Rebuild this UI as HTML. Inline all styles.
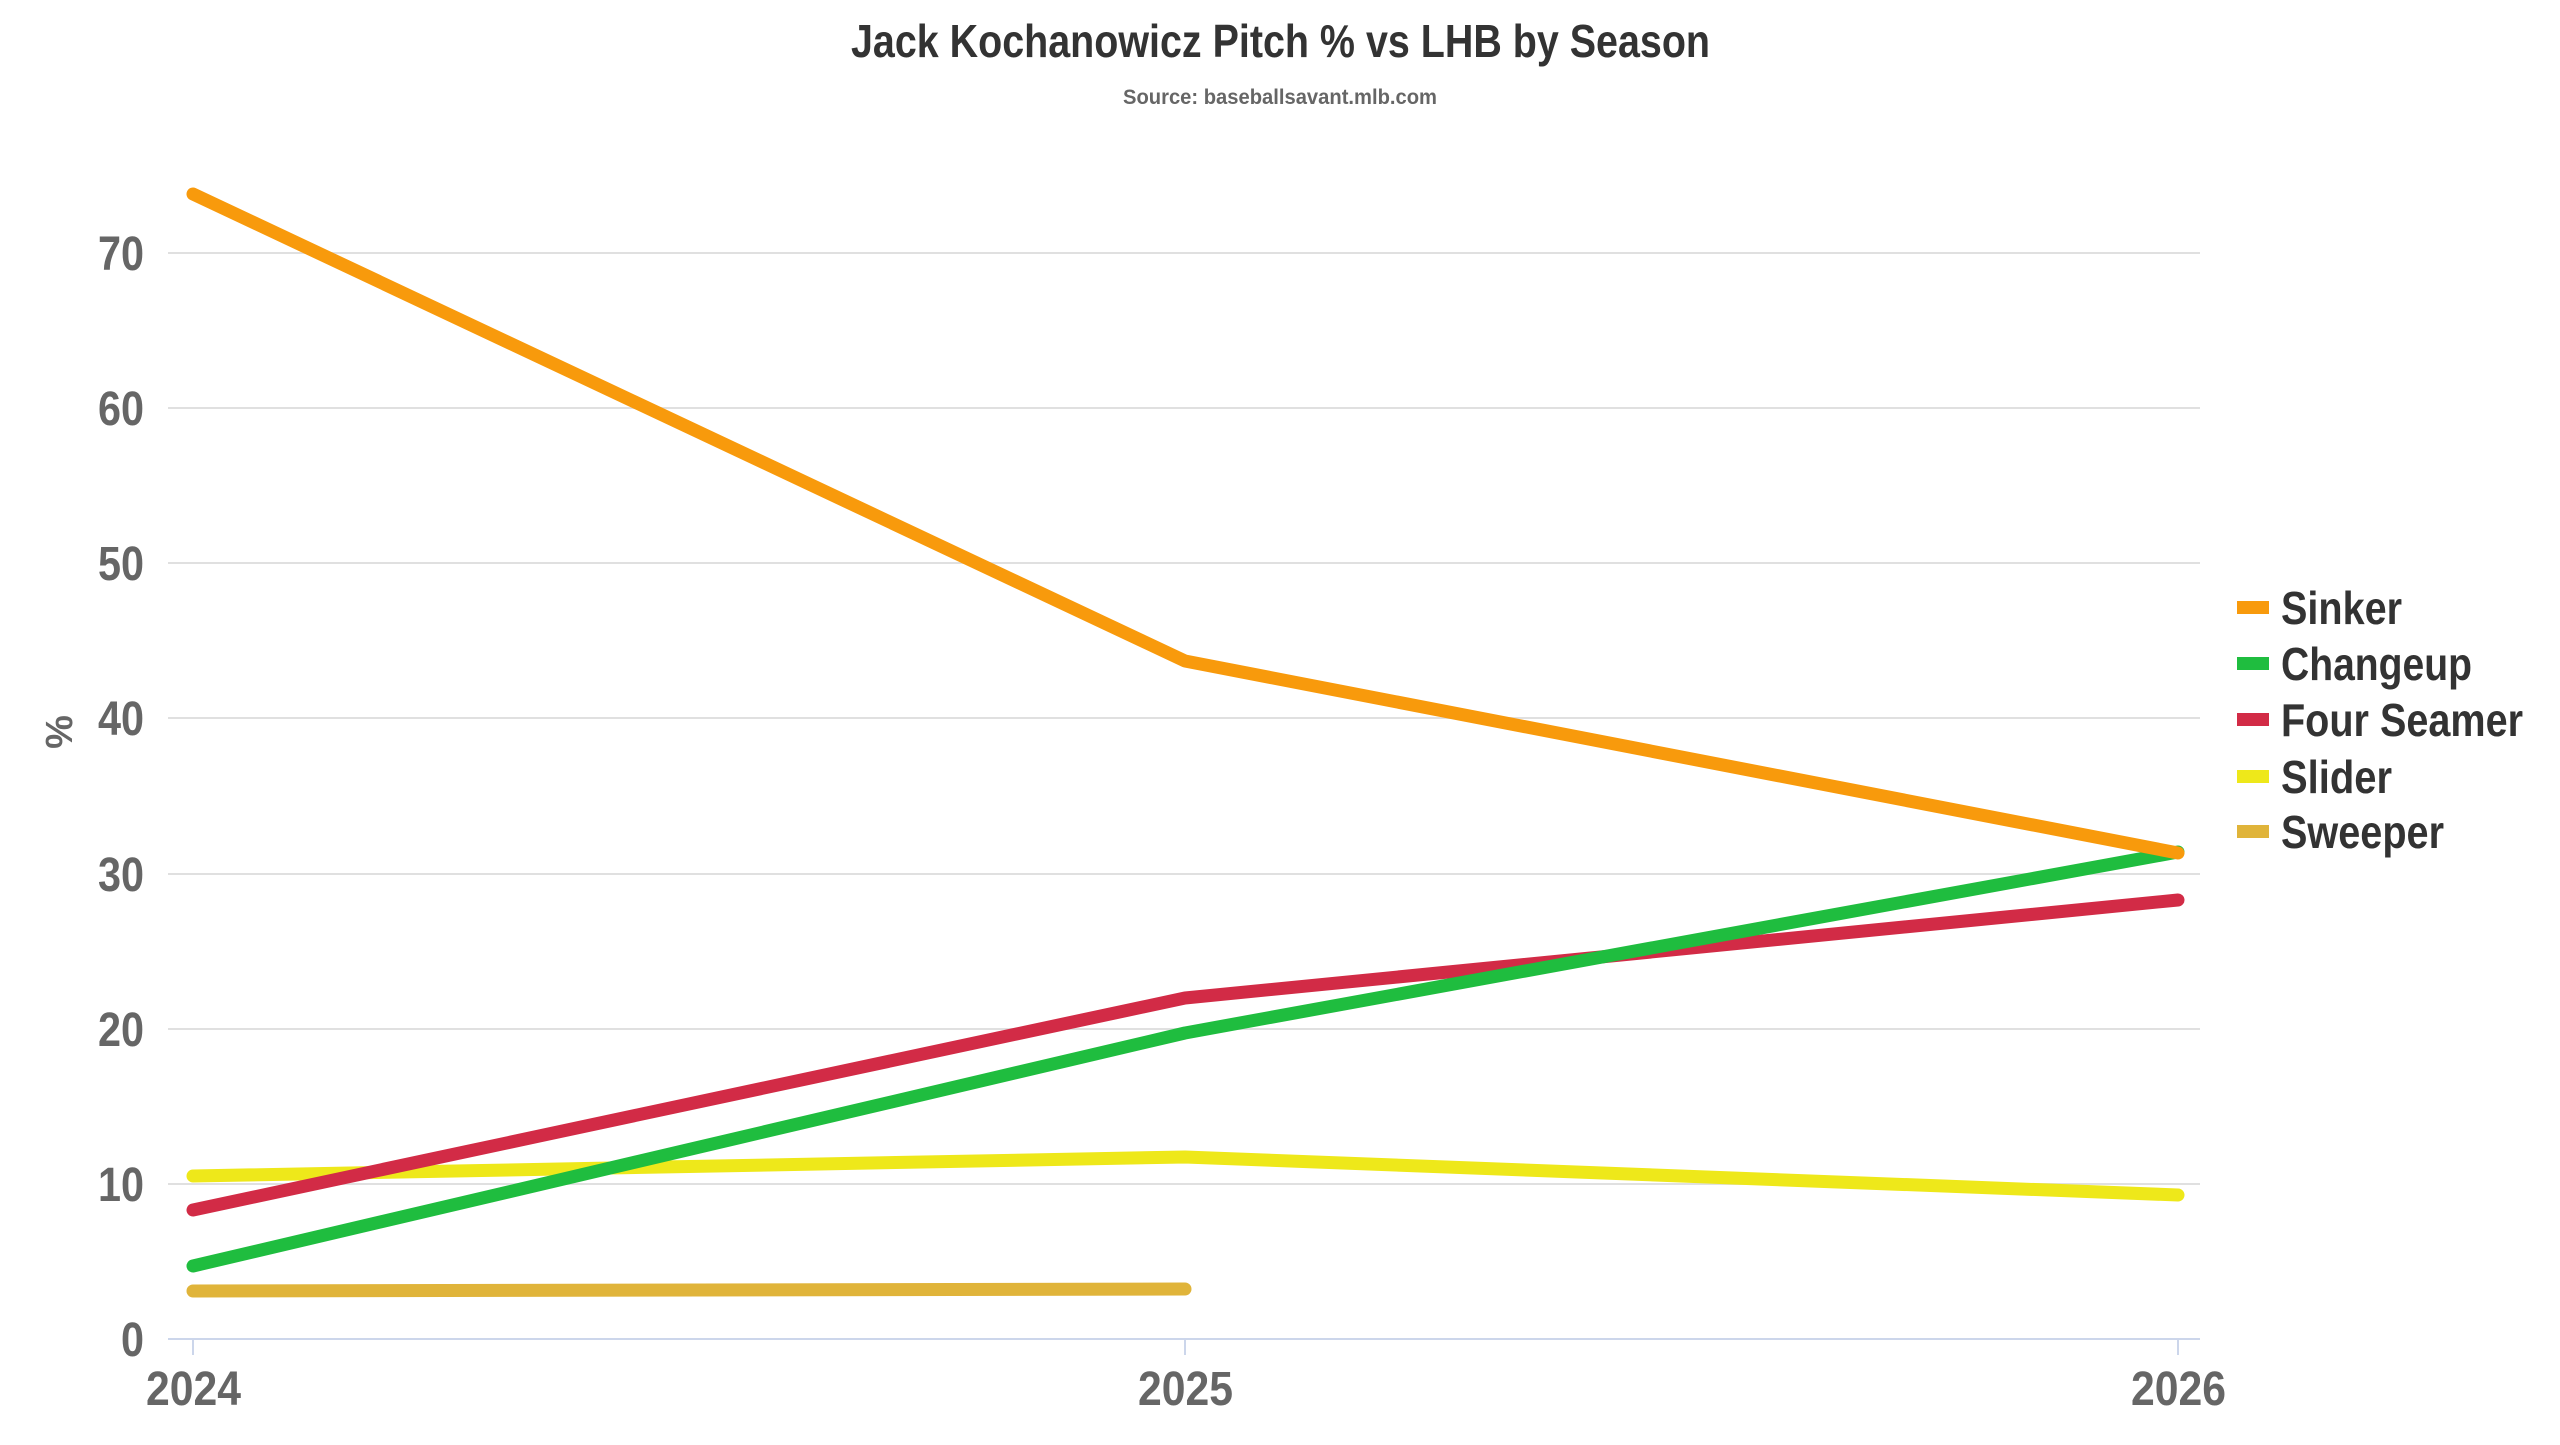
<!DOCTYPE html>
<html><head><meta charset="utf-8"><style>
html,body{margin:0;padding:0;background:#fff;}
svg text{font-family:"Liberation Sans Narrow","Liberation Sans",sans-serif;font-weight:bold;}
</style></head><body>
<svg width="2560" height="1440" viewBox="0 0 2560 1440" xmlns="http://www.w3.org/2000/svg">
<rect width="2560" height="1440" fill="#fff"/>
<text x="851" y="57" font-size="46" fill="#333" textLength="859" lengthAdjust="spacingAndGlyphs">Jack Kochanowicz Pitch % vs LHB by Season</text>
<text x="1123" y="104" font-size="21" fill="#666" textLength="314" lengthAdjust="spacingAndGlyphs">Source: baseballsavant.mlb.com</text>
<g stroke="#e0e0e0" stroke-width="2">
<line x1="168" x2="2200" y1="253" y2="253"/>
<line x1="168" x2="2200" y1="408" y2="408"/>
<line x1="168" x2="2200" y1="563" y2="563"/>
<line x1="168" x2="2200" y1="718" y2="718"/>
<line x1="168" x2="2200" y1="874" y2="874"/>
<line x1="168" x2="2200" y1="1029" y2="1029"/>
<line x1="168" x2="2200" y1="1184" y2="1184"/>
</g>
<line x1="168" x2="2200" y1="1339" y2="1339" stroke="#ccd6eb" stroke-width="2"/>
<g stroke="#ccd6eb" stroke-width="2">
<line x1="193" x2="193" y1="1339" y2="1355"/><line x1="1185" x2="1185" y1="1339" y2="1355"/><line x1="2178" x2="2178" y1="1339" y2="1355"/>
</g>
<g font-size="48" fill="#666">
<text x="98" y="270" textLength="46" lengthAdjust="spacingAndGlyphs">70</text>
<text x="98" y="425" textLength="46" lengthAdjust="spacingAndGlyphs">60</text>
<text x="98" y="580" textLength="46" lengthAdjust="spacingAndGlyphs">50</text>
<text x="98" y="735" textLength="46" lengthAdjust="spacingAndGlyphs">40</text>
<text x="98" y="891" textLength="46" lengthAdjust="spacingAndGlyphs">30</text>
<text x="98" y="1046" textLength="46" lengthAdjust="spacingAndGlyphs">20</text>
<text x="98" y="1201" textLength="46" lengthAdjust="spacingAndGlyphs">10</text>
<text x="121" y="1356" textLength="23" lengthAdjust="spacingAndGlyphs">0</text>
</g>
<g font-size="48" fill="#666">
<text x="146" y="1405" textLength="95" lengthAdjust="spacingAndGlyphs">2024</text>
<text x="1138" y="1405" textLength="95" lengthAdjust="spacingAndGlyphs">2025</text>
<text x="2131" y="1405" textLength="95" lengthAdjust="spacingAndGlyphs">2026</text>
</g>
<text transform="translate(72,732) rotate(-90)" font-size="38" fill="#666" text-anchor="middle">%</text>
<g fill="none" stroke-width="13" stroke-linecap="round" stroke-linejoin="round">
<polyline stroke="#e0b43a" points="193,1291 1185,1289"/>
<polyline stroke="#eee81a" points="193,1176 1185,1157 2178,1195"/>
<polyline stroke="#d22b46" points="193,1210 1185,998 2178,900"/>
<polyline stroke="#1fbd3f" points="193,1266 1185,1033 2178,852"/>
<polyline stroke="#f89a0c" points="193,194 1185,661 2178,853"/>
</g>
<g>
<rect x="2237" y="601" width="32" height="13" fill="#f89a0c"/>
<rect x="2237" y="657" width="32" height="13" fill="#1fbd3f"/>
<rect x="2237" y="713" width="32" height="13" fill="#d22b46"/>
<rect x="2237" y="770" width="32" height="13" fill="#eee81a"/>
<rect x="2237" y="825" width="32" height="13" fill="#e0b43a"/>
</g>
<g font-size="46" fill="#333">
<text x="2281" y="624" textLength="121" lengthAdjust="spacingAndGlyphs">Sinker</text>
<text x="2281" y="680" textLength="191" lengthAdjust="spacingAndGlyphs">Changeup</text>
<text x="2281" y="736" textLength="242" lengthAdjust="spacingAndGlyphs">Four Seamer</text>
<text x="2281" y="793" textLength="111" lengthAdjust="spacingAndGlyphs">Slider</text>
<text x="2281" y="848" textLength="163" lengthAdjust="spacingAndGlyphs">Sweeper</text>
</g>
</svg>
</body></html>
